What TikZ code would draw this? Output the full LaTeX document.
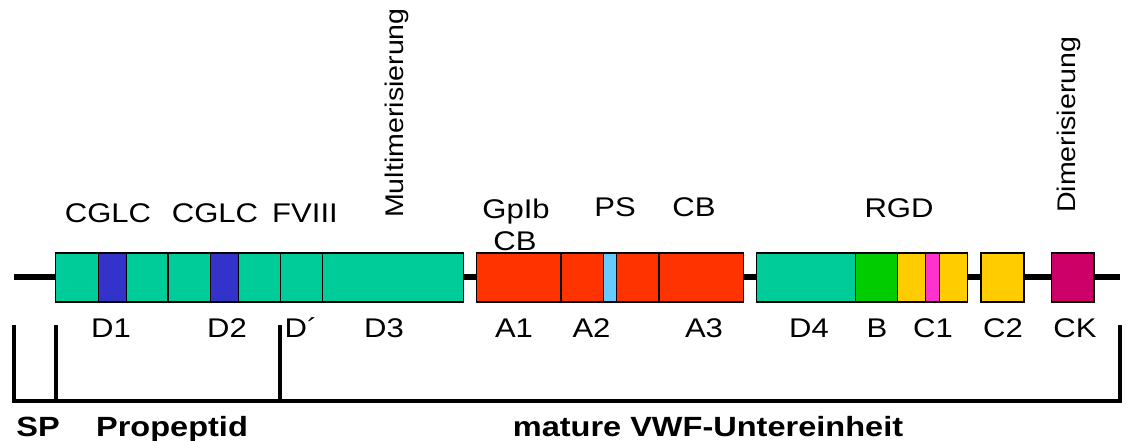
\documentclass[tikz,border=0pt]{standalone}
\usepackage{fontspec}
\newfontfamily\labfont[FakeStretch=1.15]{Liberation Sans}
\newfontfamily\rotfont[FakeStretch=1.12]{Liberation Sans}
\newfontfamily\boldlab[FakeStretch=1.17]{Liberation Sans Bold}
\definecolor{vteal}{RGB}{0,204,153}
\definecolor{vblue}{RGB}{51,51,204}
\definecolor{vred}{RGB}{255,51,0}
\definecolor{vlblue}{RGB}{102,204,255}
\definecolor{vgreen}{RGB}{0,204,0}
\definecolor{vyellow}{RGB}{255,204,0}
\definecolor{vpink}{RGB}{255,51,204}
\definecolor{vcrim}{RGB}{204,0,102}
\tikzset{
  dom/.style={draw=black, line width=1.3pt, inner sep=0pt, outer sep=0pt,
    minimum height=49pt, anchor=north west},
  lab/.style={inner sep=0pt, anchor=base, font=\labfont\fontsize{27}{30}\selectfont},
  rlab/.style={inner sep=0pt, anchor=base west, rotate=90, font=\rotfont\fontsize{25.5}{30}\selectfont},
  blab/.style={inner sep=0pt, anchor=base, font=\boldlab\fontsize{27.8}{30}\selectfont},
  backbone/.style={line width=6.5pt},
  bracket/.style={line width=4pt, line join=miter}
}
\newcommand\seg[4]{\node[dom, fill=#4, minimum width={#3-#2}] (#1) at (#2,253) {};}
\begin{document}
\begin{tikzpicture}[x=1pt,y=-1pt]
\useasboundingbox (0,0) rectangle (1126,441);
% backbone
\coordinate (bbL) at (14,277);
\coordinate (bbR) at (1120,277);
\draw[backbone] (bbL) -- (bbR);
% domains
\seg{t1}{55.3}{98.3}{vteal}
\seg{b1}{98.3}{126.3}{vblue}
\seg{t2}{126.3}{168}{vteal}
\seg{t3}{168}{210.7}{vteal}
\seg{b2}{210.7}{238.7}{vblue}
\seg{t4}{238.7}{280.3}{vteal}
\seg{dp}{280.3}{322.7}{vteal}
\seg{d3}{322.7}{463.3}{vteal}
\seg{a1}{476.7}{561}{vred}
\seg{a2a}{561}{603.3}{vred}
\seg{ps}{603.3}{616.7}{vlblue}
\seg{a2b}{616.7}{659}{vred}
\seg{a3}{659}{743.3}{vred}
\seg{d4}{756.7}{855.7}{vteal}
\seg{bb}{855.7}{897.3}{vgreen}
\seg{c1a}{897.3}{925.3}{vyellow}
\seg{rgd}{925.3}{939.7}{vpink}
\seg{c1b}{939.7}{967.7}{vyellow}
\seg{c2}{981}{1024}{vyellow}
\seg{ck}{1051.7}{1094}{vcrim}
% top labels
\node[lab] (lcglc1) at (108,222) {CGLC};
\node[lab] (lcglc2) at (215,222) {CGLC};
\node[lab] (lfviii) at (305,222) {FVIII};
\node[lab] (lgpib) at (516,218) {GpIb};
\node[lab] (lcb1) at (515,250) {CB};
\node[lab] (lps) at (615,216) {PS};
\node[lab] (lcb2) at (694,216) {CB};
\node[lab] (lrgd) at (899,217) {RGD};
\node[rlab] (lmulti) at (403,218) {Multimerisierung};
\node[rlab] (ldimer) at (1075,213) {Dimerisierung};
% bottom labels
\node[lab] (ld1) at (111,337) {D1};
\node[lab] (ld2) at (227,337) {D2};
\node[lab] (ldp) at (301,337) {D´};
\node[lab] (ld3) at (384,337) {D3};
\node[lab] (la1) at (514,337) {A1};
\node[lab] (la2) at (591.5,337) {A2};
\node[lab] (la3) at (704,337) {A3};
\node[lab] (ld4) at (809,337) {D4};
\node[lab] (lb) at (877,337) {B};
\node[lab] (lc1) at (933,337) {C1};
\node[lab] (lc2) at (1003,337) {C2};
\node[lab] (lck) at (1075,337) {CK};
% bracket
\coordinate (k1t) at (14,325);
\coordinate (k1b) at (14,401);
\coordinate (k2t) at (56,325);
\coordinate (k2b) at (56,401);
\coordinate (k3t) at (280,325);
\coordinate (k3b) at (280,401);
\coordinate (k4t) at (1120,325);
\coordinate (k4b) at (1120,401);
\draw[bracket] (k1t) -- (k1b) -- (k4b) -- (k4t);
\draw[bracket] (k2t) -- (k2b);
\draw[bracket] (k3t) -- (k3b);
% bold labels
\node[blab] (lsp) at (38,436) {SP};
\node[blab] (lprop) at (172,436) {Propeptid};
\node[blab] (lmat) at (708,436) {mature VWF-Untereinheit};
\end{tikzpicture}
\end{document}
